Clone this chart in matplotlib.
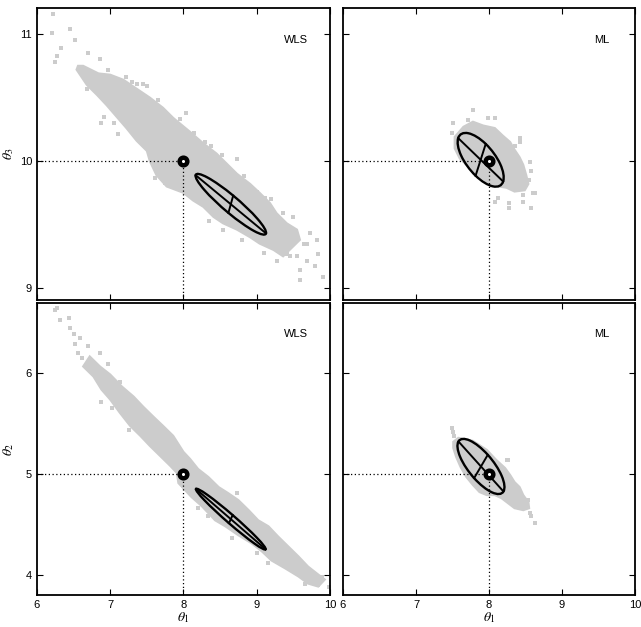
import numpy as np
import matplotlib
matplotlib.use("Agg")
import matplotlib.pyplot as plt
from matplotlib.patches import Ellipse, Polygon

plt.rcParams["font.family"] = ["Liberation Sans", "DejaVu Sans"]
plt.rcParams["mathtext.fontset"] = "stix"

# true parameter values
theta1_true = 8.0
theta2_true = 5.0
theta3_true = 10.0

# ---- WLS, theta1 vs theta3 ----
wls13_cloud_x = [6.56, 6.63, 6.84, 7.00, 7.18, 7.36, 7.54, 7.72, 7.86, 8.09, 8.27, 8.45, 8.59, 8.73,
                 8.91, 9.04, 9.18, 9.27, 9.41, 9.55, 9.59, 9.36, 9.23, 9.04, 8.91, 8.73, 8.54, 8.41,
                 8.27, 8.13, 8.00, 7.77, 7.63, 7.54, 7.50, 7.36, 7.22, 6.95, 6.82, 6.68, 6.54]
wls13_cloud_y = [10.75, 10.75, 10.69, 10.68, 10.64, 10.57, 10.50, 10.42, 10.34, 10.23, 10.14, 10.06,
                 9.98, 9.90, 9.82, 9.75, 9.67, 9.59, 9.51, 9.46, 9.38, 9.25, 9.30, 9.35, 9.40, 9.46,
                 9.51, 9.56, 9.64, 9.69, 9.75, 9.80, 9.89, 10.00, 10.08, 10.16, 10.26, 10.44, 10.52,
                 10.60, 10.72]
wls13_pts_x = [6.22, 6.20, 6.45, 6.52, 6.33, 6.25, 6.28, 6.70, 6.86, 6.97, 7.22, 7.45, 7.50, 6.88,
               6.91, 7.11, 6.68, 8.04, 8.29, 8.52, 8.73, 9.00, 9.11, 9.36, 9.50, 9.68, 9.82, 9.73,
               9.41, 9.64, 9.55, 9.45, 9.27, 9.68, 9.80, 9.84, 9.59, 9.59, 9.91, 8.54, 7.61, 7.75,
               7.93, 7.36, 7.30, 7.65, 7.95, 8.15, 8.38, 8.82, 9.20, 7.05, 8.35, 8.80, 9.10]
wls13_pts_y = [11.16, 11.01, 11.04, 10.95, 10.89, 10.78, 10.83, 10.85, 10.80, 10.72, 10.66, 10.61,
               10.59, 10.30, 10.35, 10.21, 10.57, 10.38, 10.15, 10.05, 10.02, 9.76, 9.71, 9.59,
               9.56, 9.35, 9.38, 9.43, 9.27, 9.35, 9.25, 9.25, 9.21, 9.21, 9.17, 9.27, 9.14, 9.06,
               9.09, 9.46, 9.87, 9.83, 9.79, 10.61, 10.62, 10.48, 10.33, 10.22, 10.12, 9.88, 9.70,
               10.30, 9.53, 9.38, 9.28]

# ---- ML, theta1 vs theta3 ----
ml13_cloud_x = [7.53, 7.65, 7.78, 7.92, 8.08, 8.19, 8.29, 8.35, 8.42, 8.47, 8.51, 8.54, 8.49, 8.35,
                8.24, 8.13, 8.01, 7.85, 7.71, 7.60, 7.53]
ml13_cloud_y = [10.19, 10.27, 10.31, 10.28, 10.26, 10.20, 10.15, 10.09, 10.03, 9.97, 9.89, 9.82,
                9.77, 9.76, 9.79, 9.80, 9.82, 9.89, 9.96, 10.02, 10.10]
ml13_pts_x = [7.78, 7.71, 7.51, 7.99, 8.08, 8.42, 8.42, 8.56, 8.58, 8.60, 8.63, 8.47, 8.28, 8.12,
              8.47, 8.28, 8.58, 8.08, 7.50, 8.55, 8.35]
ml13_pts_y = [10.40, 10.32, 10.30, 10.34, 10.34, 10.18, 10.15, 9.99, 9.92, 9.75, 9.75, 9.68, 9.67,
              9.71, 9.73, 9.63, 9.63, 9.68, 10.22, 9.85, 10.12]

# ---- WLS, theta1 vs theta2 ----
wls12_cloud_x = [6.72, 6.86, 7.00, 7.16, 7.32, 7.45, 7.59, 7.72, 7.86, 8.00, 8.09, 8.20, 8.34, 8.48,
                 8.61, 8.75, 8.89, 9.02, 9.16, 9.29, 9.43, 9.57, 9.70, 9.84, 9.93, 9.84, 9.70, 9.57,
                 9.39, 9.20, 9.07, 8.93, 8.75, 8.57, 8.43, 8.25, 8.11, 7.93, 7.91, 7.82, 7.68, 7.54,
                 7.41, 7.27, 7.13, 7.00, 6.88, 6.77, 6.63]
wls12_cloud_y = [6.17, 6.07, 5.99, 5.87, 5.77, 5.67, 5.57, 5.48, 5.38, 5.22, 5.15, 5.05, 4.97, 4.87,
                 4.81, 4.74, 4.64, 4.54, 4.48, 4.38, 4.28, 4.18, 4.08, 4.00, 3.95, 3.88, 3.91, 3.98,
                 4.06, 4.14, 4.23, 4.31, 4.39, 4.48, 4.54, 4.68, 4.77, 4.91, 5.01, 5.08, 5.18, 5.28,
                 5.38, 5.48, 5.61, 5.74, 5.84, 5.97, 6.07]
wls12_pts_x = [6.25, 6.28, 6.32, 6.44, 6.45, 6.50, 6.59, 6.52, 6.56, 6.70, 6.86, 6.97, 7.13, 6.88,
               7.02, 7.25, 7.66, 7.77, 7.79, 8.73, 9.20, 9.32, 9.48, 9.59, 9.75, 9.89, 9.84, 9.98,
               8.20, 8.34, 8.66, 9.00, 9.16, 9.66, 6.62, 6.75]
wls12_pts_y = [6.63, 6.65, 6.53, 6.55, 6.45, 6.39, 6.35, 6.29, 6.20, 6.27, 6.20, 6.09, 5.92, 5.72,
               5.66, 5.44, 5.43, 5.36, 5.37, 4.81, 4.41, 4.31, 4.21, 4.11, 3.98, 3.98, 3.90, 3.88,
               4.66, 4.58, 4.36, 4.21, 4.11, 3.91, 6.15, 6.10]

# ---- ML, theta1 vs theta2 ----
ml12_cloud_x = [7.51, 7.58, 7.78, 7.97, 8.10, 8.22, 8.29, 8.35, 8.42, 8.47, 8.54, 8.55, 8.47, 8.35,
                8.26, 8.17, 8.08, 7.97, 7.87, 7.78, 7.69, 7.61, 7.55, 7.51]
ml12_cloud_y = [5.32, 5.36, 5.33, 5.24, 5.14, 5.06, 4.99, 4.92, 4.87, 4.79, 4.72, 4.66, 4.64, 4.66,
                4.71, 4.76, 4.79, 4.79, 4.82, 4.89, 4.97, 5.07, 5.17, 5.26]
ml12_pts_x = [7.50, 7.51, 8.26, 8.24, 8.56, 8.63, 8.58, 8.54, 7.52, 8.45, 8.40]
ml12_pts_y = [5.46, 5.42, 5.14, 5.14, 4.61, 4.51, 4.58, 4.74, 5.38, 4.70, 4.82]

# confidence ellipses: TL, TR, BL, BR
ell_cx = [8.646, 7.886, 8.646, 7.89]
ell_cy = [9.660, 10.01, 4.551, 5.075]
ell_major = [0.532, 0.352, 0.562, 0.396]   # semi-axes, data units
ell_minor = [0.0755, 0.143, 0.0475, 0.149]
ell_angle = [-25.5, -29.0, -32.25, -38.9]  # degrees, data space

panel_labels = ["WLS", "ML", "WLS", "ML"]
gray = "#cccccc"

fig = plt.figure(figsize=(6.41, 6.27), dpi=100)
positions = [[0.0577, 0.5215, 0.4571, 0.4657], [0.5351, 0.5215, 0.4555, 0.4657],
             [0.0577, 0.0510, 0.4571, 0.4657], [0.5351, 0.0510, 0.4555, 0.4657]]
clouds = [(wls13_cloud_x, wls13_cloud_y, wls13_pts_x, wls13_pts_y),
          (ml13_cloud_x, ml13_cloud_y, ml13_pts_x, ml13_pts_y),
          (wls12_cloud_x, wls12_cloud_y, wls12_pts_x, wls12_pts_y),
          (ml12_cloud_x, ml12_cloud_y, ml12_pts_x, ml12_pts_y)]

for i in range(4):
    ax = fig.add_axes(positions[i])
    top = i < 2
    ytrue = theta3_true if top else theta2_true
    ax.set_xlim(6, 10)
    if top:
        ax.set_ylim(8.906, 11.205)
        ax.set_yticks([9, 10, 11])
    else:
        ax.set_ylim(3.796, 6.701)
        ax.set_yticks([4, 5, 6])
    ax.set_xticks([6, 7, 8, 9, 10])

    cx, cy, px, py = clouds[i]
    ax.add_patch(Polygon(np.column_stack([cx, cy]), closed=True, facecolor=gray,
                         edgecolor=gray, linewidth=1.5, zorder=1))
    ax.scatter(px, py, s=8, marker="s", color=gray, linewidths=0, zorder=1)

    # dotted guides to true value
    ax.plot([6, theta1_true], [ytrue, ytrue], color="k", ls=(0, (1, 2)), lw=0.9, zorder=2)
    ax.plot([theta1_true, theta1_true], [ax.get_ylim()[0], ytrue], color="k", ls=(0, (1, 2)),
            lw=0.9, zorder=2)

    # ellipse with principal axes
    c = np.array([ell_cx[i], ell_cy[i]])
    t = np.deg2rad(ell_angle[i])
    u = ell_major[i] * np.array([np.cos(t), np.sin(t)])
    v = ell_minor[i] * np.array([-np.sin(t), np.cos(t)])
    ax.add_patch(Ellipse(c, 2 * ell_major[i], 2 * ell_minor[i], angle=ell_angle[i],
                         fill=False, edgecolor="k", lw=1.7, zorder=3))
    ax.plot([c[0] - u[0], c[0] + u[0]], [c[1] - u[1], c[1] + u[1]], color="k", lw=1.4, zorder=3)
    ax.plot([c[0] - v[0], c[0] + v[0]], [c[1] - v[1], c[1] + v[1]], color="k", lw=1.4, zorder=3)

    ax.plot([theta1_true], [ytrue], marker="o", ms=5.5, mfc="white", mec="k", mew=3.2, zorder=4)

    ax.text(0.885, 0.89 if top else 0.895, panel_labels[i], transform=ax.transAxes,
            ha="center", va="center", fontsize=8)

    ax.tick_params(direction="in", top=True, right=True, length=4, width=0.8, labelsize=8)
    for sp in ax.spines.values():
        sp.set_linewidth(1.3)
    if top:
        ax.tick_params(labelbottom=False)
    else:
        ax.set_xlabel(r"$\theta_1$", fontsize=10)
        ax.xaxis.set_label_coords(0.5, -0.052)
    if i % 2 == 1:
        ax.tick_params(labelleft=False)
    else:
        ax.set_ylabel(r"$\theta_3$" if top else r"$\theta_2$", fontsize=10)
        ax.yaxis.set_label_coords(-0.07, 0.5)

fig.savefig("out.png", dpi=100)
